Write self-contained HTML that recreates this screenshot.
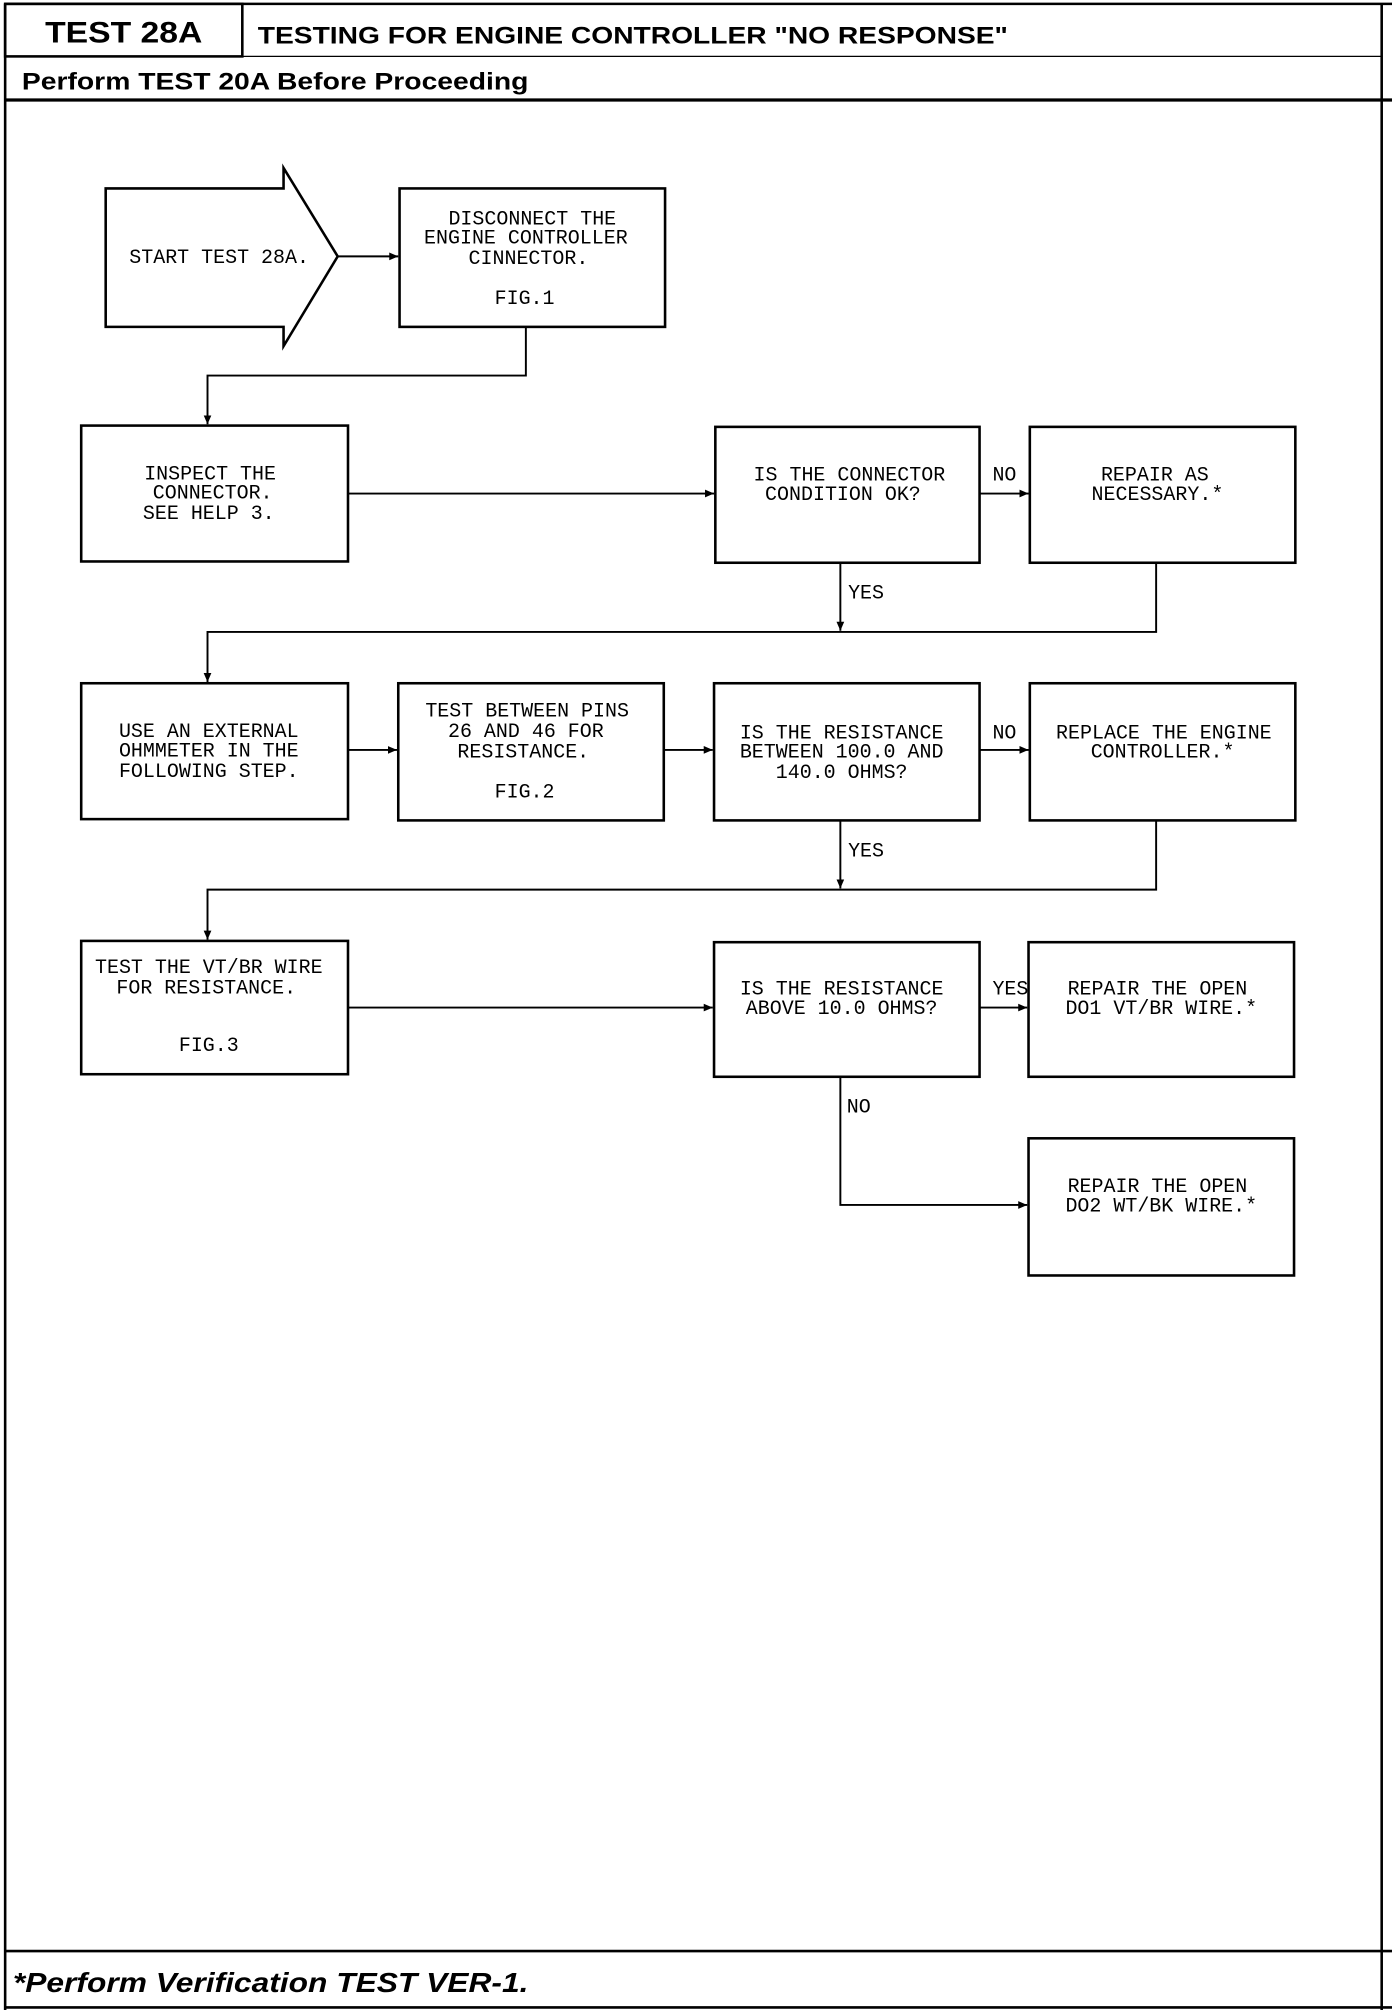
<!DOCTYPE html>
<html><head><meta charset="utf-8"><style>
html,body{margin:0;padding:0;background:#fff;}
svg{display:block;}
.b{font-family:"Liberation Sans",sans-serif;font-weight:bold;}
.m{font-family:"Liberation Mono",monospace;font-size:15.5px;}
</style></head><body>
<svg width="1392" height="2010" viewBox="0 0 1080 1568" preserveAspectRatio="none" xmlns="http://www.w3.org/2000/svg">
<defs><marker id="a" markerWidth="8" markerHeight="8" refX="7" refY="4" orient="auto" markerUnits="userSpaceOnUse"><path d="M0,1 L7,4 L0,7 Z" fill="#000"/></marker></defs>
<g fill="none" stroke="#000" stroke-width="2">
<line x1="4" y1="3" x2="1080" y2="3"/>
<line x1="4" y1="3" x2="4" y2="1568"/>
<line x1="1072" y1="3" x2="1072" y2="1568"/>
<rect x="4" y="3" width="184" height="41"/>
<line x1="4" y1="44" x2="1072" y2="44" stroke-width="1"/>
<line x1="4" y1="78" x2="1080" y2="78" stroke-width="2.5"/>
<line x1="4" y1="1522" x2="1080" y2="1522"/>
<line x1="4" y1="1566" x2="1080" y2="1566"/>
<!-- start arrow -->
<path d="M82,147 L220,147 L220,131 L262,200 L220,270 L220,255 L82,255 Z"/>
<rect x="310" y="147" width="206" height="108"/>
<rect x="63" y="332" width="207" height="106"/>
<rect x="555" y="333" width="205" height="106"/>
<rect x="799" y="333" width="206" height="106"/>
<rect x="63" y="533" width="207" height="106"/>
<rect x="309" y="533" width="206" height="107"/>
<rect x="554" y="533" width="206" height="107"/>
<rect x="799" y="533" width="206" height="107"/>
<rect x="63" y="734" width="207" height="104"/>
<rect x="554" y="735" width="206" height="105"/>
<rect x="798" y="735" width="206" height="105"/>
<rect x="798" y="888" width="206" height="107"/>
</g>
<g fill="none" stroke="#000" stroke-width="1.5">
<line x1="262" y1="200" x2="309" y2="200" marker-end="url(#a)"/>
<polyline points="408,255 408,293 161,293 161,331" marker-end="url(#a)"/>
<line x1="270" y1="385" x2="554" y2="385" marker-end="url(#a)"/>
<line x1="760" y1="385" x2="798" y2="385" marker-end="url(#a)"/>
<line x1="652" y1="439" x2="652" y2="492" marker-end="url(#a)"/>
<polyline points="897,439 897,493 161,493 161,532" marker-end="url(#a)"/>
<line x1="270" y1="585" x2="308" y2="585" marker-end="url(#a)"/>
<line x1="515" y1="585" x2="553" y2="585" marker-end="url(#a)"/>
<line x1="760" y1="585" x2="798" y2="585" marker-end="url(#a)"/>
<line x1="652" y1="640" x2="652" y2="693" marker-end="url(#a)"/>
<polyline points="897,640 897,694 161,694 161,733" marker-end="url(#a)"/>
<line x1="270" y1="786" x2="553" y2="786" marker-end="url(#a)"/>
<line x1="760" y1="786" x2="797" y2="786" marker-end="url(#a)"/>
<polyline points="652,840 652,940 797,940" marker-end="url(#a)"/>
</g>
<text class="b" x="35" y="33" font-size="23" textLength="122" lengthAdjust="spacingAndGlyphs">TEST 28A</text>
<text class="b" x="200" y="34" font-size="19" textLength="582" lengthAdjust="spacingAndGlyphs">TESTING FOR ENGINE CONTROLLER "NO RESPONSE"</text>
<text class="b" x="17" y="70" font-size="19" textLength="393" lengthAdjust="spacingAndGlyphs">Perform TEST 20A Before Proceeding</text>
<text class="b" x="10" y="1554" font-size="22" font-style="italic" textLength="400" lengthAdjust="spacingAndGlyphs">*Perform Verification TEST VER-1.</text>
<g class="m" text-anchor="middle">
<text x="170" y="205">START TEST 28A.</text>
<text x="413" y="175">DISCONNECT THE</text>
<text x="408" y="190">ENGINE CONTROLLER</text>
<text x="410" y="206">CINNECTOR.</text>
<text x="407" y="237">FIG.1</text>
<text x="163" y="374">INSPECT THE</text>
<text x="165" y="389">CONNECTOR.</text>
<text x="162" y="405">SEE HELP 3.</text>
<text x="659" y="375">IS THE CONNECTOR</text>
<text x="654" y="390">CONDITION OK?</text>
<text x="896" y="375">REPAIR AS</text>
<text x="898" y="390">NECESSARY.*</text>
<text x="162" y="575">USE AN EXTERNAL</text>
<text x="162" y="590">OHMMETER IN THE</text>
<text x="162" y="606">FOLLOWING STEP.</text>
<text x="409" y="559">TEST BETWEEN PINS</text>
<text x="408" y="575">26 AND 46 FOR</text>
<text x="406" y="591">RESISTANCE.</text>
<text x="407" y="622">FIG.2</text>
<text x="653" y="576">IS THE RESISTANCE</text>
<text x="653" y="591">BETWEEN 100.0 AND</text>
<text x="653" y="607">140.0 OHMS?</text>
<text x="903" y="576">REPLACE THE ENGINE</text>
<text x="902" y="591">CONTROLLER.*</text>
<text x="162" y="759">TEST THE VT/BR WIRE</text>
<text x="160" y="775">FOR RESISTANCE.</text>
<text x="162" y="820">FIG.3</text>
<text x="653" y="776">IS THE RESISTANCE</text>
<text x="653" y="791">ABOVE 10.0 OHMS?</text>
<text x="898" y="776">REPAIR THE OPEN</text>
<text x="901" y="791">DO1 VT/BR WIRE.*</text>
<text x="898" y="930">REPAIR THE OPEN</text>
<text x="901" y="945">DO2 WT/BK WIRE.*</text>
</g>
<g class="m">
<text x="770" y="375">NO</text>
<text x="658" y="467">YES</text>
<text x="770" y="576">NO</text>
<text x="658" y="668">YES</text>
<text x="770" y="776">YES</text>
<text x="657" y="868">NO</text>
</g>
</svg>
</body></html>
